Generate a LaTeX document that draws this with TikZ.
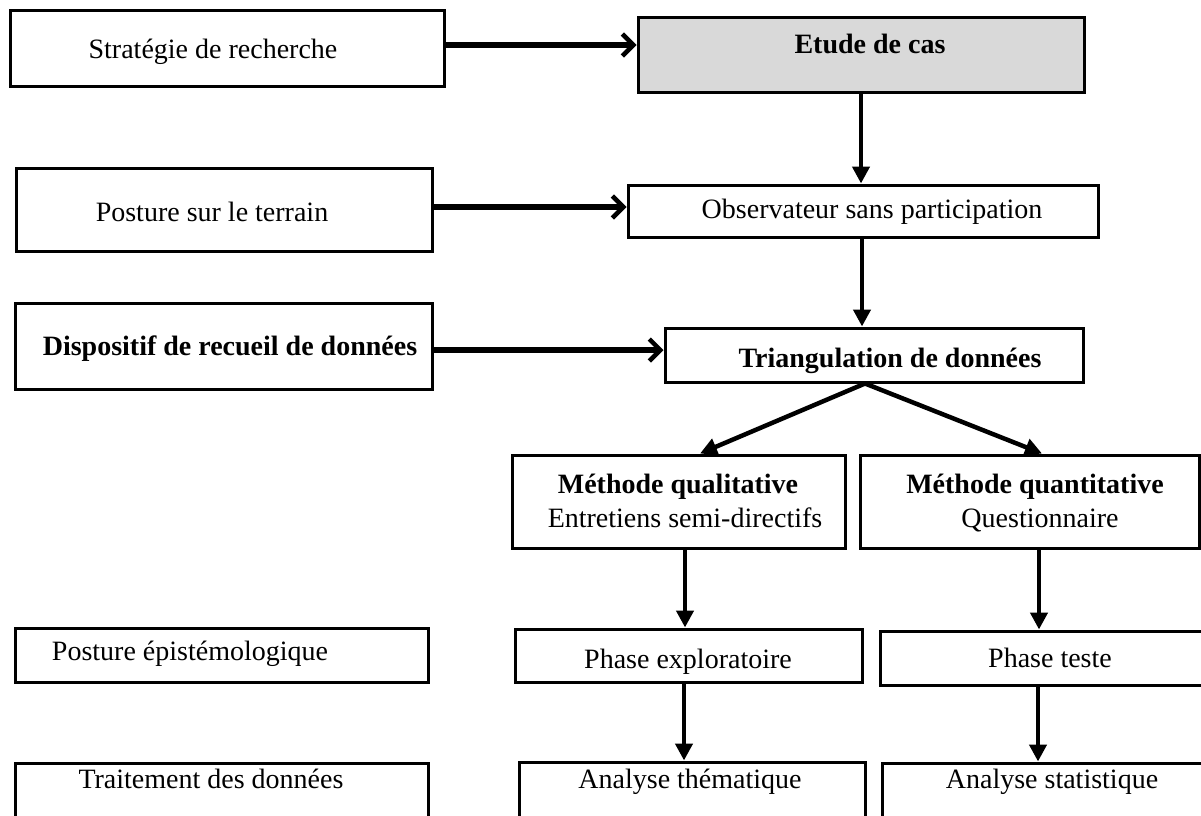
\documentclass[tikz,border=0pt]{standalone}
\usepackage{fontspec}
\setmainfont{Liberation Serif}
\usetikzlibrary{arrows.meta}
\begin{document}
\begin{tikzpicture}[x=1pt,y=-1pt,
  box/.style={draw=black,line width=3pt,rectangle,inner sep=0pt,fill=white},
  txt/.style={anchor=base,inner sep=0pt,font=\fontsize{28}{34}\selectfont},
  btxt/.style={anchor=base,inner sep=0pt,font=\fontsize{28}{34}\selectfont\bfseries},
  harrow/.style={line width=5.5pt,-{Straight Barb[length=11pt,width=22pt,line width=4.5pt]}},
  varrow/.style={line width=4.5pt,-{Triangle[length=17pt,width=17pt]}}]
\useasboundingbox (0,0) rectangle (1201,815);
\clip (0,0) rectangle (1201,815);
% boxes
\node[box,minimum width=434pt,minimum height=76pt] (s1) at (227,48) {};
\node[box,fill=black!15,minimum width=446pt,minimum height=75pt] (e1) at (861,54.5) {};
\node[box,minimum width=416pt,minimum height=83pt] (s2) at (224,209.5) {};
\node[box,minimum width=470pt,minimum height=52pt] (e2) at (863,211) {};
\node[box,minimum width=417pt,minimum height=86pt] (s3) at (223.5,346) {};
\node[box,minimum width=418pt,minimum height=54pt] (e3) at (874,355) {};
\node[box,minimum width=333pt,minimum height=93pt] (q1) at (678.5,501.5) {};
\node[box,minimum width=339pt,minimum height=93pt] (q2) at (1029.5,501.5) {};
\node[box,minimum width=413pt,minimum height=54pt] (s4) at (221.5,655) {};
\node[box,minimum width=347pt,minimum height=53pt] (p1) at (688.5,655.5) {};
\node[box,minimum width=330pt,minimum height=54pt] (p2) at (1045,658) {};
\node[box,minimum width=413pt,minimum height=67pt] (s5) at (221.5,796.5) {};
\node[box,minimum width=346pt,minimum height=68pt] (a1) at (692,796) {};
\node[box,minimum width=328pt,minimum height=67pt] (a2) at (1046,796.5) {};
% texts
\node[txt] (t1) at (213,58) {Stratégie de recherche};
\node[btxt] (t2) at (870,53) {Etude de cas};
\node[txt] (t3) at (212,221) {Posture sur le terrain};
\node[txt] (t4) at (872,218) {Observateur sans participation};
\node[btxt] (t5) at (230,355) {Dispositif de recueil de données};
\node[btxt] (t6) at (890,367) {Triangulation de données};
\node[btxt] (t7) at (678,493) {Méthode qualitative};
\node[txt] (t8) at (685,527) {Entretiens semi-directifs};
\node[btxt] (t9) at (1035,493) {Méthode quantitative};
\node[txt] (t10) at (1040,527) {Questionnaire};
\node[txt] (t11) at (190,660) {Posture épistémologique};
\node[txt] (t12) at (688,668) {Phase exploratoire};
\node[txt] (t13) at (1050,667) {Phase teste};
\node[txt] (t14) at (211,788) {Traitement des données};
\node[txt] (t15) at (690,788) {Analyse thématique};
\node[txt] (t16) at (1052,788) {Analyse statistique};
% connectors
\draw[harrow] (s1.east |- 0,45) -- (e1.west |- 0,45);
\draw[harrow] (s2.east |- 0,207) -- (e2.west |- 0,207);
\draw[harrow] (s3.east |- 0,350) -- (e3.west |- 0,350);
\draw[varrow] (e1.south) -- (e1.south |- e2.north);
\draw[varrow] (862,0 |- e2.south) -- (862,0 |- e3.north);
\draw[varrow] (865,0 |- e3.south) -- (700,0 |- q1.north);
\draw[varrow] (865,0 |- e3.south) -- (1042,0 |- q2.north);
\draw[varrow] (685,0 |- q1.south) -- (685,0 |- p1.north);
\draw[varrow] (1039,0 |- q2.south) -- (1039,0 |- p2.north);
\draw[varrow] (684,0 |- p1.south) -- (684,0 |- a1.north);
\draw[varrow] (1038,0 |- p2.south) -- (1038,0 |- a2.north);
\end{tikzpicture}
\end{document}
